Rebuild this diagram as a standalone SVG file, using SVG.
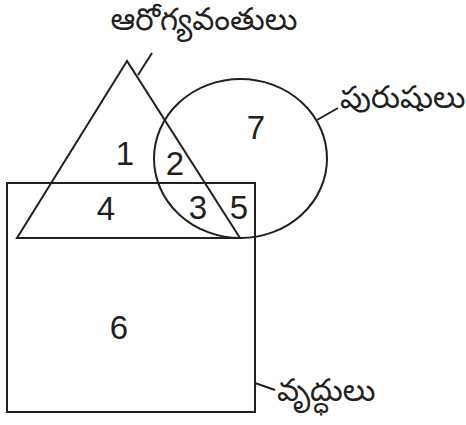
<svg xmlns="http://www.w3.org/2000/svg" width="466" height="425" viewBox="0 0 466 425">
<style>
.s{fill:none;stroke:#231f20;stroke-width:2}
.n{font-family:"Liberation Sans",Arial,sans-serif;font-size:33px;fill:#231f20;text-anchor:middle}
.t{font-family:"Noto Sans Telugu","Noto Sans","Liberation Sans",sans-serif;font-size:31px;fill:#231f20}
</style>
<rect width="466" height="425" fill="#fff"/>
<g id="rect-old">
<rect class="s" x="7" y="183" width="248" height="229"/>
</g>
<g id="triangle-healthy">
<polygon class="s" points="127,61 17,238 240,238" stroke-linejoin="miter"/>
</g>
<g id="circle-men">
<ellipse class="s" cx="240.5" cy="158.5" rx="86.5" ry="79.5"/>
</g>
<g id="connectors">
<line class="s" x1="138" y1="75" x2="152" y2="53"/>
<line class="s" x1="317" y1="120" x2="338" y2="108"/>
<line class="s" x1="255" y1="383" x2="275" y2="390"/>
</g>
<g id="labels">
<text class="t" x="204" y="30" text-anchor="middle">ఆరోగ్యవంతులు</text>
<text class="t" x="340" y="108">పురుషులు</text>
<text class="t" x="277" y="401">వృద్ధులు</text>
</g>
<g id="regions">
<text class="n" x="125" y="165">1</text>
<text class="n" x="175" y="175">2</text>
<text class="n" x="198" y="219">3</text>
<text class="n" x="106" y="220">4</text>
<text class="n" x="239" y="219">5</text>
<text class="n" x="119" y="339">6</text>
<text class="n" x="256" y="139">7</text>
</g>
</svg>
